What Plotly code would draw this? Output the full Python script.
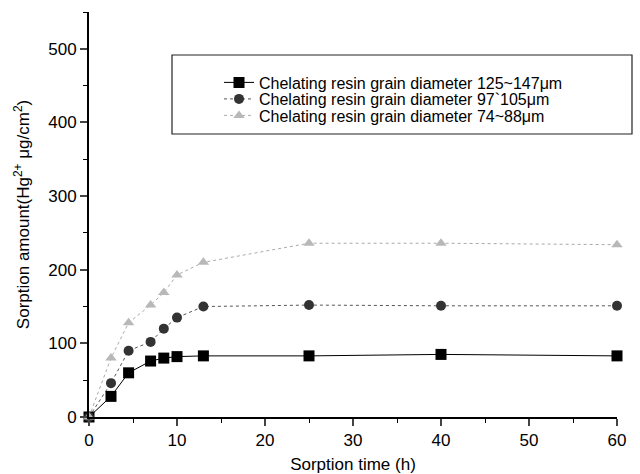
import plotly.graph_objects as go

# Data
time_h = [0, 2.5, 4.5, 7, 8.5, 10, 13, 25, 40, 60]
sorption_125_147 = [0, 28, 60, 76, 80, 82, 83, 83, 85, 83]
sorption_97_105 = [0, 46, 90, 102, 120, 135, 150, 152, 151, 151]
sorption_74_88 = [0, 80, 128, 152, 169, 193, 210, 236, 236, 234]
series_names = [
    "Chelating resin grain diameter 125~147\u03bcm",
    "Chelating resin grain diameter 97`105\u03bcm",
    "Chelating resin grain diameter 74~88\u03bcm",
]
x_ticks = [0, 10, 20, 30, 40, 50, 60]
y_ticks = [0, 100, 200, 300, 400, 500]

W, H = 640, 474
L, R, T, B = 89, 617, 12, 417
FS = 17
LFS = 16

def px_x(p):
    return (p - L) / (R - L)

def px_y(p):
    return (B - p) / (B - T)

fig = go.Figure()
fig.add_trace(go.Scatter(
    x=time_h, y=sorption_125_147, name=series_names[0], mode="lines+markers",
    line=dict(color="black", width=1, dash="solid"),
    marker=dict(symbol="square", size=11, color="black"), cliponaxis=False,
    legend="legend"))
fig.add_trace(go.Scatter(
    x=time_h, y=sorption_97_105, name=series_names[1], mode="lines+markers",
    line=dict(color="#555555", width=1, dash="dot"),
    marker=dict(symbol="circle", size=10, color="#333333"), cliponaxis=False,
    legend="legend2"))
fig.add_trace(go.Scatter(
    x=time_h, y=sorption_74_88, name=series_names[2], mode="lines+markers",
    line=dict(color="#aaaaaa", width=1, dash="dot"),
    marker=dict(symbol="triangle-up", size=10, color="#b8b8b8"), cliponaxis=False,
    legend="legend3"))

fig.add_shape(type="rect", xref="paper", yref="paper",
              x0=px_x(172), x1=px_x(632), y0=px_y(134), y1=px_y(55),
              line=dict(color="#222222", width=1.2), layer="above")

def leg(row_y):
    return dict(x=px_x(219), y=px_y(row_y), xanchor="left", yanchor="middle",
                bgcolor="rgba(0,0,0,0)", borderwidth=0,
                font=dict(size=LFS), itemwidth=30)

fig.update_layout(
    width=W, height=H,
    margin=dict(l=L, r=W - R, t=T, b=H - B),
    paper_bgcolor="white", plot_bgcolor="white",
    font=dict(family="Liberation Sans, Arial, sans-serif", size=FS, color="black"),
    showlegend=True,
    legend=leg(82.5), legend2=leg(99), legend3=leg(115.5),
    xaxis=dict(
        title=dict(text="Sorption time (h)", font=dict(size=FS), standoff=10),
        automargin=False,
        range=[0, 60], tickvals=x_ticks, ticks="outside", ticklen=7, tickwidth=1.5,
        showline=True, linecolor="black", linewidth=2, showgrid=False, zeroline=False,
        minor=dict(tickvals=[5, 15, 25, 35, 45, 55], ticks="outside", ticklen=4,
                   tickwidth=1.2, tickcolor="black"),
        tickfont=dict(size=FS)),
    yaxis=dict(
        title=dict(text="Sorption amount(Hg<sup>2+</sup> \u03bcg/cm<sup>2</sup>)",
                   font=dict(size=FS), standoff=14),
        automargin=False,
        range=[0, 550], tickvals=y_ticks, ticks="outside", ticklen=7, tickwidth=1.5,
        showline=True, linecolor="black", linewidth=2, showgrid=False, zeroline=False,
        minor=dict(tickvals=[50, 150, 250, 350, 450, 550], ticks="outside", ticklen=4,
                   tickwidth=1.2, tickcolor="black"),
        tickfont=dict(size=FS)),
)

fig.write_html("out.html")
